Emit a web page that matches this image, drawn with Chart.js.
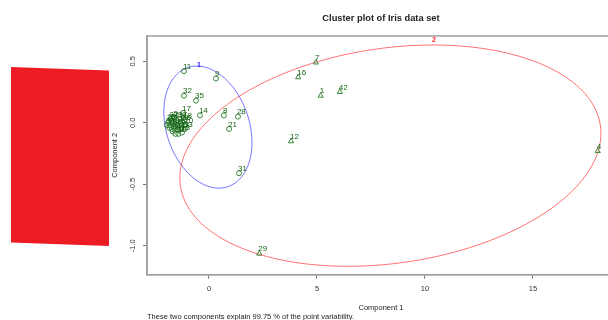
<!DOCTYPE html>
<html>
<head>
<meta charset="utf-8">
<title>Cluster plot of Iris data set</title>
<script src="https://cdn.jsdelivr.net/npm/chart.js@4/dist/chart.umd.min.js"></script>
<style>
  html, body { margin: 0; padding: 0; background: #fff; overflow: hidden; }
  #wrap { position: relative; width: 608px; height: 320px; overflow: hidden; }
  #sticker {
    position: absolute; left: 11px; top: 67px; width: 98px; height: 180px;
    background: #ed1c24;
    clip-path: polygon(0 0, 98px 3.5px, 98px 179px, 0 175.5px);
  }
  #box { position: absolute; left: 0; top: 0; }
</style>
</head>
<body>
<div id="wrap">
  <div id="sticker"></div>
  <div id="box"><canvas id="clusterChart" width="630" height="320"></canvas></div>
</div>
<script>
// cluster 1 (circles, blue ellipse)
const c1Labels = ['2', '3', '5', '6', '10', '13', '15', '18', '19', '20', '22', '23', '24', '25', '26',
                  '27', '30', '33', '34', '36', '37', '38', '39', '40', '41',
                  '8', '9', '11', '14', '17', '21', '28', '31', '32', '35'];
const c1X = [-1.8, -1.6, -1.6, -1.72, -1.85, -1.25, -1.45, -1.15, -1.32, -1.1, -1.9, -1.28, -1.68, -1.5, -1.2,
             -1.78, -1.42, -1.12, -1.95, -1.62, -1.38, -1.55, -1.85, -1.72, -1.45];
c1X.push(0.69, 0.32, -1.16, -0.42, -1.2, 0.93, 1.34, 1.39, -1.16, -0.6);
const c1Y = [-0.02, -0.05, 0.04, 0.01, -0.04, -0.08, -0.03, 0.02, 0.0, -0.02, 0.0, -0.05, -0.07, 0.02, 0.0,
             0.03, -0.09, -0.05, -0.02, -0.03, 0.03, -0.09, 0.01, -0.05, -0.06];
c1Y.push(0.06, 0.36, 0.42, 0.06, 0.08, -0.05, 0.05, -0.41, 0.22, 0.18);

// cluster 2 (triangles, red ellipse)
const c2Labels = ['1', '4', '7', '12', '16', '29', '42'];
const c2X = [5.17, 18.0, 4.95, 3.8, 4.13, 2.33, 6.06];
const c2Y = [0.22, -0.23, 0.49, -0.15, 0.37, -1.063, 0.25];

// spanning ellipses: x = cx + rx*cos(t), y = cy - ry*cos(t + tilt)
const ellipseCX = [-0.05, 8.40];
const ellipseCY = [-0.035, -0.267];
const ellipseRX = [2.04, 9.75];
const ellipseRY = [0.496, 0.899];
const ellipseTilt = [1.318, 1.774];

// cluster names
const clusterNames = ['1', '2'];
const clusterNameX = [-0.46, 10.42];
const clusterNameY = [0.47, 0.67];

const xTicks = [0, 5, 10, 15];
const yTicks = [0.5, 0.0, -0.5, -1.0];

const FONT = "'Liberation Sans', Arial, Helvetica, sans-serif";
const pointColor = '#3a863a';
const labelColor = '#146414';
const ellipseColors = ['rgba(0, 0, 255, 0.55)', 'rgba(255, 0, 0, 0.55)'];
const nameColors = ['#2020ff', '#ff2020'];
const frameColor = '#a0a0a0';

const extras = {
    id: 'extras',
    beforeDatasetsDraw(chart) {
        const { ctx, chartArea: a, scales: { x, y } } = chart;
        ctx.save();
        // box around the plot region
        ctx.strokeStyle = frameColor;
        ctx.lineWidth = 1.5;
        ctx.strokeRect(a.left, a.top, a.right - a.left, a.bottom - a.top);

        // cluster ellipses, mapped through the scales
        for (let k = 0; k < ellipseCX.length; k++) {
            ctx.beginPath();
            for (let i = 0; i <= 180; i++) {
                const t = i / 180 * Math.PI * 2;
                const dx = ellipseCX[k] + ellipseRX[k] * Math.cos(t);
                const dy = ellipseCY[k] - ellipseRY[k] * Math.cos(t + ellipseTilt[k]);
                const px = x.getPixelForValue(dx);
                const py = y.getPixelForValue(dy);
                if (i === 0) ctx.moveTo(px, py); else ctx.lineTo(px, py);
            }
            ctx.closePath();
            ctx.strokeStyle = ellipseColors[k];
            ctx.lineWidth = 1;
            ctx.stroke();
        }
        ctx.restore();
    },
    afterDatasetsDraw(chart) {
        const { ctx, scales: { x, y } } = chart;
        ctx.save();
        ctx.font = '8px ' + FONT;
        ctx.fillStyle = labelColor;
        ctx.textAlign = 'left';
        ctx.textBaseline = 'middle';
        [c1Labels, c2Labels].forEach((labels, d) => {
            chart.getDatasetMeta(d).data.forEach((pt, i) => {
                ctx.fillText(labels[i], pt.x - 1, pt.y - 4.5);
            });
        });

        // cluster names on the ellipses
        ctx.font = 'bold 7px ' + FONT;
        ctx.textAlign = 'center';
        clusterNames.forEach((name, k) => {
            ctx.fillStyle = nameColors[k];
            ctx.fillText(name, x.getPixelForValue(clusterNameX[k]), y.getPixelForValue(clusterNameY[k]));
        });

        // footnote
        ctx.font = '7.5px ' + FONT;
        ctx.fillStyle = '#222';
        ctx.textAlign = 'left';
        ctx.fillText('These two components explain 99.75 % of the point variability.', chart.chartArea.left, 316.5);
        ctx.restore();
    }
};

const ctx = document.getElementById('clusterChart').getContext('2d');
new Chart(ctx, {
    type: 'scatter',
    data: {
        datasets: [{
            label: 'Cluster 1',
            data: c1X.map((v, i) => ({ x: v, y: c1Y[i] })),
            pointStyle: 'circle',
            pointRadius: 2.5,
            borderWidth: 1,
            borderColor: pointColor,
            backgroundColor: 'rgba(0,0,0,0)'
        }, {
            label: 'Cluster 2',
            data: c2X.map((v, i) => ({ x: v, y: c2Y[i] })),
            pointStyle: 'triangle',
            pointRadius: 3,
            borderWidth: 1,
            borderColor: pointColor,
            backgroundColor: 'rgba(0,0,0,0)'
        }]
    },
    options: {
        responsive: false,
        animation: false,
        events: [],
        layout: { padding: { left: 100, right: 15, top: 0, bottom: 0 } },
        plugins: {
            legend: { display: false },
            tooltip: { enabled: false },
            title: {
                display: true,
                text: 'Cluster plot of Iris data set',
                fullSize: false,
                color: '#222',
                font: { family: FONT, size: 9.3, weight: 'bold' },
                padding: { top: 12.4, bottom: 12.4 }
            }
        },
        scales: {
            x: {
                type: 'linear',
                min: -2.87,
                max: 18.8,
                afterBuildTicks: s => { s.ticks = xTicks.map(v => ({ value: v })); },
                afterFit: s => { s.height = 45.3; },
                grid: { drawOnChartArea: false, tickLength: 4, color: '#777' },
                border: { color: frameColor, width: 1.5 },
                ticks: {
                    padding: 5.8,
                    color: '#333',
                    font: { family: FONT, size: 7.5 },
                    callback: v => String(v)
                },
                title: {
                    display: true,
                    text: 'Component 1',
                    color: '#222',
                    font: { family: FONT, size: 7.5 },
                    padding: { top: 0, bottom: 7.8 }
                }
            },
            y: {
                type: 'linear',
                min: -1.2343,
                max: 0.7055,
                afterBuildTicks: s => { s.ticks = yTicks.map(v => ({ value: v })); },
                afterFit: s => { s.width = 47; },
                grid: { drawOnChartArea: false, tickLength: 4, color: '#777' },
                border: { color: frameColor, width: 1.5 },
                ticks: {
                    minRotation: 90,
                    maxRotation: 90,
                    crossAlign: 'center',
                    padding: 3.5,
                    color: '#333',
                    font: { family: FONT, size: 7.5 },
                    callback: v => v.toFixed(1)
                },
                title: {
                    display: true,
                    text: 'Component 2',
                    color: '#222',
                    font: { family: FONT, size: 7.5 },
                    padding: { top: 10.5, bottom: 0 }
                }
            }
        }
    },
    plugins: [extras]
});
</script>
</body>
</html>
